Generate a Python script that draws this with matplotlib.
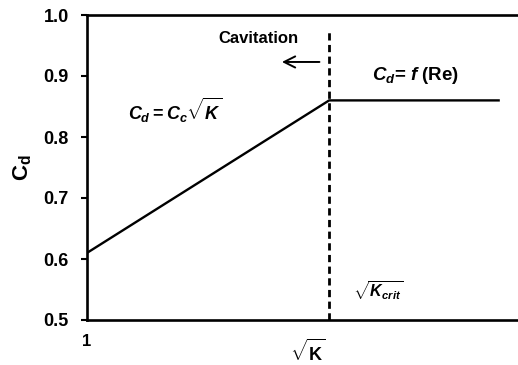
import matplotlib
matplotlib.use("Agg")
import matplotlib.pyplot as plt

plt.rcParams['font.family'] = ['Liberation Sans', 'DejaVu Sans']
plt.rcParams['font.weight'] = 'bold'
plt.rcParams['mathtext.fontset'] = 'custom'
plt.rcParams['mathtext.rm'] = 'Liberation Sans:bold'
plt.rcParams['mathtext.it'] = 'Liberation Sans:bold:italic'
plt.rcParams['mathtext.bf'] = 'Liberation Sans:bold'
plt.rcParams['mathtext.sf'] = 'Liberation Sans:bold'

# discharge coefficient vs sqrt(K)
sqrt_k = [1.0, 2.0, 2.7]
cd = [0.61, 0.86, 0.86]
sqrt_k_crit = 2.0
y_ticks = [0.5, 0.6, 0.7, 0.8, 0.9, 1.0]
y_tick_labels = ["0.5", "0.6", "0.7", "0.8", "0.9", "1.0"]

fig = plt.figure(figsize=(5.18, 3.65), dpi=100)
ax = fig.add_axes([87 / 518, 1 - 320 / 365, 1 - 87 / 518, 305 / 365])

ax.plot(sqrt_k, cd, color='black', lw=1.7, solid_joinstyle='miter')
ax.plot([sqrt_k_crit, sqrt_k_crit], [0.5, 0.972], color='black', lw=2.0,
        dashes=(2.6, 1.6))

ax.set_xlim(1.0, 2.78)
ax.set_ylim(0.5, 1.0)
ax.set_yticks(y_ticks)
ax.set_yticklabels(y_tick_labels, fontsize=13, fontweight='bold')
ax.set_xticks([1.0])
ax.set_xticklabels(["1"], fontsize=12, fontweight='bold')
ax.tick_params(axis='y', direction='out', length=4, width=1.5, pad=9)
ax.tick_params(axis='x', length=0, pad=10)

ax.spines['right'].set_visible(False)
for side in ['left', 'top', 'bottom']:
    ax.spines[side].set_linewidth(1.9)

ax.set_ylabel(r"C$_\mathregular{d}$", fontsize=16, fontweight='bold', labelpad=7)
ax.text(1.91, -0.105, r"$\sqrt{\mathregular{K}}$", fontsize=13,
        ha='center', va='center', transform=ax.get_xaxis_transform())

ax.text(1.71, 0.962, "Cavitation", fontsize=12, fontweight='bold',
        ha='center', va='center')
ax.annotate("", xy=(1.805, 0.923), xytext=(1.96, 0.923),
            arrowprops=dict(arrowstyle='->', color='black', lw=1.4,
                            mutation_scale=20, shrinkA=0, shrinkB=0))
ax.text(2.177, 0.900, r"$C_d$= $f$ (Re)", fontsize=13.5, ha='left', va='center')
ax.text(1.17, 0.843, r"$C_d = C_c\sqrt{K}$", fontsize=13, ha='left', va='center')
ax.text(2.1, 0.549, r"$\sqrt{K_{crit}}$", fontsize=11.5, ha='left', va='center')

fig.savefig("out.png", dpi=100)
